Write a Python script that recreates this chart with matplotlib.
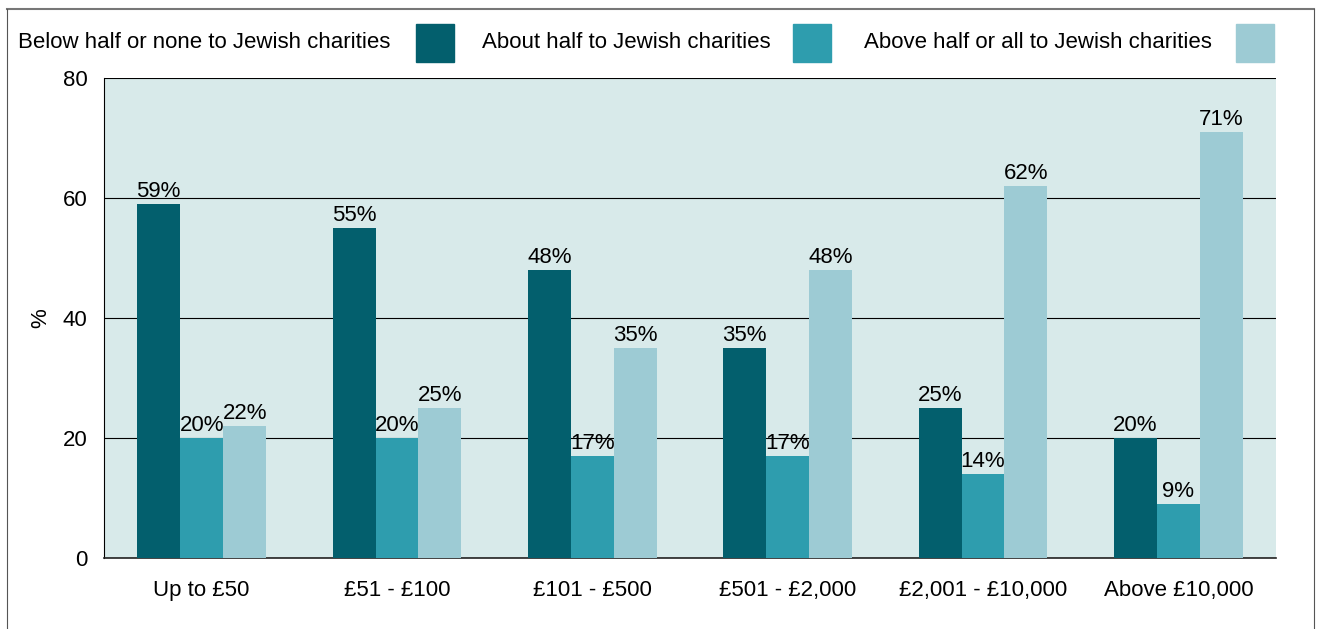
import numpy as np
import matplotlib.pyplot as plt
from matplotlib.patches import Rectangle

# data
categories = ['Up to £50', '£51 - £100', '£101 - £500', '£501 - £2,000', '£2,001 - £10,000', 'Above £10,000']
below_half = [59, 55, 48, 35, 25, 20]
about_half = [20, 20, 17, 17, 14, 9]
above_half = [22, 25, 35, 48, 62, 71]
series_names = ['Below half or none to Jewish charities', 'About half to Jewish charities',
                'Above half or all to Jewish charities']
colors = ['#035f6d', '#2e9dae', '#9dcbd4']

plt.rcParams['font.family'] = ['Liberation Sans', 'DejaVu Sans']
FS = 16

W, H = 1319, 629
fig = plt.figure(figsize=(W / 100, H / 100), dpi=100)

# axes placement in pixels
L, R, T, B = 104, 1276, 78, 558
ax = fig.add_axes([L / W, 1 - B / H, (R - L) / W, (B - T) / H])
ax.set_facecolor('#d8eaea')

x = np.arange(len(categories))
bw = 0.22
for i, vals in enumerate([below_half, about_half, above_half]):
    pos = x + (i - 1) * bw
    ax.bar(pos, vals, width=bw, color=colors[i], zorder=3)
    for p, v in zip(pos, vals):
        ax.text(p, v + 0.3, f'{v}%', ha='center', va='bottom', fontsize=FS, zorder=4)

ax.set_xlim(-0.5, len(categories) - 0.5)
ax.set_ylim(0, 80)
ax.set_yticks([0, 20, 40, 60, 80])
ax.yaxis.grid(True, color='black', linewidth=0.8, zorder=1)
ax.tick_params(axis='both', length=0, labelsize=FS)
ax.tick_params(axis='y', pad=12)
ax.tick_params(axis='x', pad=16)
ax.set_xticks(x)
ax.set_xticklabels(categories)
ax.set_ylabel('%', fontsize=FS)
ax.yaxis.set_label_coords(-0.045, 0.5)
for s in ['top', 'right']:
    ax.spines[s].set_visible(False)
ax.spines['left'].set_linewidth(0.8)
ax.spines['bottom'].set_color('#222222')
ax.spines['bottom'].set_linewidth(1.2)

# legend drawn manually: text followed by swatch
leg_y = 42
legend_items = [(18, 416), (482, 793), (864, 1236)]
for (tx, px), name, c in zip(legend_items, series_names, colors):
    fig.text(tx / W, 1 - leg_y / H, name, ha='left', va='center', fontsize=FS)
    fig.patches.append(Rectangle((px / W, 1 - 62 / H), 38 / W, 38 / H,
                                 transform=fig.transFigure, color=c))

# outer frame
frame_col = '#555555'
fig.add_artist(plt.Line2D([7 / W, 1314 / W], [1 - 9 / H, 1 - 9 / H], transform=fig.transFigure,
                          color='#777777', linewidth=1.5))
fig.add_artist(plt.Line2D([7 / W, 7 / W], [0, 1 - 9 / H], transform=fig.transFigure,
                          color=frame_col, linewidth=0.8))
fig.add_artist(plt.Line2D([1314 / W, 1314 / W], [0, 1 - 9 / H], transform=fig.transFigure,
                          color=frame_col, linewidth=0.8))

fig.savefig('out.png', dpi=100)
